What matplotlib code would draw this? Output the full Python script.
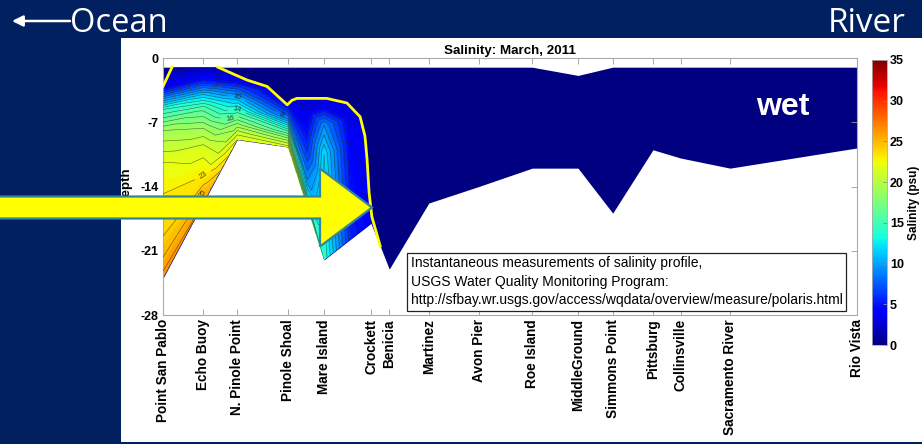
import numpy as np
import matplotlib
matplotlib.use('Agg')
import matplotlib.pyplot as plt
import matplotlib.patches as mpatches
from matplotlib.colors import Normalize

plt.rcParams['font.family'] = ['Liberation Sans', 'DejaVu Sans']

# stations along the transect (distance units, 0 = Point San Pablo)
stations = ['Point San Pablo', 'Echo Buoy', 'N. Pinole Point', 'Pinole Shoal', 'Mare Island',
            'Crockett', 'Benicia', 'Martinez', 'Avon Pier', 'Roe Island', 'MiddleGround',
            'Simmons Point', 'Pittsburg', 'Collinsville', 'Sacramento River', 'Rio Vista']
station_x = [0, 5.8, 10.7, 18.0, 23.2, 30.0, 32.6, 38.3, 45.5, 53.2, 59.8, 64.8, 70.6, 74.6, 81.7, 100]
surface_depth = [-1, -1, -1, -1, -1, -1, -1, -1, -1, -1, -1.9, -1, -1, -1, -1, -1]
bed_depth = [-24.0, -15.8, -8.9, -9.7, -22.0, -18.0, -23.0, -15.8, -14.0, -12.0, -12.0,
             -16.9, -10.0, -10.9, -12.0, -9.8]

# salinity casts (psu) at fractional depth levels, surface -> bed
cast_x = [0, 5.8, 10.7, 18.0, 20.8, 23.2, 27.0, 30.0, 32.6]
sigma = [0, 0.1, 0.2, 0.3, 0.45, 0.6, 0.8, 0.9, 1.0]
sal_psp = [1.5, 4.0, 14.0, 19.0, 22.0, 23.0, 24.0, 25.0, 26.5]
sal_echo = [1.5, 5.0, 11.0, 15.5, 19.0, 21.5, 23.0, 24.5, 26.0]
sal_npinole = [1.5, 2.5, 4.0, 7.0, 11.0, 14.5, 18.5, 20.5, 22.0]
sal_pshoal = [1.0, 1.5, 2.0, 2.5, 3.5, 7.0, 15.0, 18.5, 21.5]
sal_slope = [1.0, 1.5, 2.0, 3.0, 4.5, 6.0, 9.0, 12.0, 18.0]
sal_mare = [1.0, 2.0, 3.5, 9.0, 12.0, 12.5, 13.0, 13.5, 14.0]
sal_east = [1.0, 2.0, 3.0, 3.5, 4.0, 4.5, 5.0, 5.2, 5.5]
sal_crockett = [1.0, 2.0, 2.5, 3.0, 3.0, 3.5, 3.5, 3.8, 4.0]
sal_benicia = [0.5, 1.0, 1.5, 2.0, 2.0, 2.5, 2.5, 2.8, 3.0]

# edge of the salt intrusion (yellow line)
front_x = [0, 1.3, 7.9, 9.7, 12.1, 15.0, 17.9, 18.6, 19.3, 23.6, 26.5, 28.4, 29.1, 29.4, 29.7, 30.1, 31.3]
front_depth = [-3.1, -1.0, -1.0, -1.6, -2.4, -3.1, -5.1, -4.6, -4.4, -4.4, -4.9, -6.4, -8.5,
               -11.0, -14.7, -17.3, -20.5]

fig = plt.figure(figsize=(9.22, 4.44), dpi=100, facecolor='#002060')

# white slide panel
bg = fig.add_axes([0, 0, 1, 1], zorder=-1)
bg.set_xlim(0, 922)
bg.set_ylim(444, 0)
bg.axis('off')
bg.add_patch(mpatches.Rectangle((121, 38), 801, 404, fc='white', ec='none'))

ax = fig.add_axes([163 / 922, 1 - 315 / 444, 694 / 922, 257 / 444])
cmap = plt.get_cmap('jet')
norm = Normalize(0, 35)

sx = np.array(station_x)
sd = np.array(surface_depth)
bd = np.array(bed_depth)
ax.fill_between(sx, sd, bd, color=cmap(0.0), lw=0, zorder=1)

cx = np.array(cast_x)
top = np.interp(cx, sx, sd)
bot = np.interp(cx, sx, bd)
sig = np.array(sigma)[:, None]
X = np.broadcast_to(cx, (len(sigma), len(cx)))
Y = top + sig * (bot - top)
Z = np.column_stack([sal_psp, sal_echo, sal_npinole, sal_pshoal, sal_slope, sal_mare,
                     sal_east, sal_crockett, sal_benicia])

fx = np.array(front_x)
fd = np.array(front_depth)
keep = sx < fx[-1]
poly = np.column_stack([np.r_[fx, sx[keep][::-1]], np.r_[fd, bd[keep][::-1]]])
clip = mpatches.Polygon(poly, closed=True, fc='none', ec='none')
ax.add_patch(clip)

cf = ax.contourf(X, Y, Z, levels=np.arange(0, 35.5, 0.5), cmap=cmap, norm=norm, zorder=2)
cf.set_clip_path(clip)
cl = ax.contour(X, Y, Z, levels=np.arange(1, 27, 1), colors='#222222', linewidths=0.35,
                alpha=0.75, zorder=3)
cl.set_clip_path(clip)
for t in ax.clabel(cl, levels=[8, 10, 12, 14, 16, 23, 25], fontsize=5.5, inline=True, fmt='%d',
                   colors='#111111'):
    t.set_clip_path(clip)

at_surf = np.isclose(fd, np.interp(fx, sx, sd))
gap = np.where(at_surf[:-1] & at_surf[1:])[0] + 1
ax.plot(np.insert(fx, gap, np.nan), np.insert(fd, gap, np.nan), color='#FFFF00', lw=2, zorder=4)

ax.set_xlim(0, 100)
ax.set_ylim(-28, 0)
ax.set_xticks(sx)
ax.set_xticklabels(stations, rotation=90, fontsize=9.8, fontweight='bold')
ax.set_yticks([-28, -21, -14, -7, 0])
ax.set_yticklabels(['-28', '-21', '-14', '-7', '0'], fontsize=9, fontweight='bold')
ax.tick_params(direction='in', top=True, right=True, length=4, width=0.6, color='#999999', pad=3)
for s in ax.spines.values():
    s.set_color('#aaaaaa')
    s.set_linewidth(0.8)
ax.set_ylabel('Depth', fontsize=9.6, fontweight='bold')
ax.yaxis.set_label_coords(-0.044, 0.5)
ax.set_title('Salinity: March, 2011', fontsize=9.6, fontweight='bold', pad=3)

ax.text(89.3, -5.3, 'wet', color='white', fontsize=23, fontweight='bold', ha='center', va='center',
        zorder=5)
ax.text(0.357, 0.228, 'Instantaneous measurements of salinity profile,\n'
        'USGS Water Quality Monitoring Program:\n'
        'http://sfbay.wr.usgs.gov/access/wqdata/overview/measure/polaris.html',
        transform=ax.transAxes, fontsize=10, va='top', ha='left', linespacing=1.4, zorder=6,
        bbox=dict(boxstyle='square,pad=0.25', fc='white', ec='#222222', lw=0.9))

cax = fig.add_axes([872 / 922, 1 - 345 / 444, 15 / 922, 285 / 444])
cb = fig.colorbar(plt.cm.ScalarMappable(norm=norm, cmap=cmap), cax=cax, ticks=range(0, 36, 5))
cb.outline.set_edgecolor('#aaaaaa')
cb.outline.set_linewidth(0.6)
cax.tick_params(labelsize=9, length=3, width=0.6, direction='in', color='#888888', pad=2)
for t in cax.get_yticklabels():
    t.set_fontweight('bold')
cb.set_label('Salinity (psu)', fontsize=8.5, fontweight='bold', labelpad=3)

# slide annotations
ov = fig.add_axes([0, 0, 1, 1], zorder=5)
ov.set_xlim(0, 922)
ov.set_ylim(444, 0)
ov.axis('off')
ov.add_patch(mpatches.FancyArrow(-5, 207.5, 377, 0, width=22, head_width=78, head_length=52,
                                 length_includes_head=True, fc='#FFFF00', ec='#31859C', lw=1.6))
ov.annotate('', xy=(12, 21), xytext=(70, 21),
            arrowprops=dict(arrowstyle='-|>', color='white', lw=1.8, mutation_scale=16,
                            shrinkA=0, shrinkB=0))
ov.text(70, 32, 'Ocean', color='white', fontsize=23.5, family='Open Sans', ha='left', va='baseline')
ov.text(906, 32, 'River', color='white', fontsize=24, family='Open Sans', ha='right', va='baseline')

fig.savefig('out.png', dpi=100, facecolor=fig.get_facecolor())
